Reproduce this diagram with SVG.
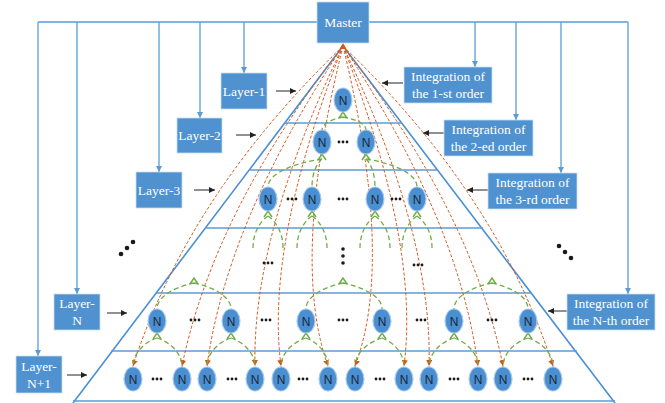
<svg xmlns="http://www.w3.org/2000/svg" xmlns:xlink="http://www.w3.org/1999/xlink" width="665" height="403" viewBox="0 0 665 403">
<style>
.box{fill:#4f92cf;stroke:#c9dcef;stroke-width:0.8}
.bt{font-family:"Liberation Serif","Times New Roman",serif;font-size:13.5px;fill:#ffffff;text-anchor:middle}
.feed{fill:none;stroke:#5b9bd5;stroke-width:1.3}
.edge{fill:none;stroke:#4a8fd3;stroke-width:1.6}
.tier{fill:none;stroke:#5b9bd5;stroke-width:1.6}
.blk{fill:none;stroke:#222;stroke-width:1}
.org{fill:none;stroke:#d2561a;stroke-width:1;stroke-dasharray:3 2}
.grn{fill:none;stroke:#70ad47;stroke-width:1.3;stroke-dasharray:5 3}
.chev{fill:none;stroke:#70ad47;stroke-width:1.5}
.nd{fill:#4a8fd1;stroke:#a9c9ea;stroke-width:1.2}
.nt{font-family:"Liberation Sans",Arial,sans-serif;font-size:12px;fill:#1b2733;text-anchor:middle}
.dot{fill:#1a1a1a}
</style>
<defs>
<marker id="mb" viewBox="0 0 10 10" refX="10" refY="5" markerWidth="6" markerHeight="6" markerUnits="userSpaceOnUse" orient="auto"><path d="M0,0 L10,5 L0,10z" fill="#5b9bd5"/></marker>
<marker id="mk" viewBox="0 0 10 10" refX="10" refY="5" markerWidth="7" markerHeight="6" markerUnits="userSpaceOnUse" orient="auto"><path d="M0,0 L10,5 L0,10z" fill="#222"/></marker>
<marker id="mo" viewBox="0 0 10 10" refX="10" refY="5" markerWidth="6" markerHeight="6" markerUnits="userSpaceOnUse" orient="auto"><path d="M0,0 L10,5 L0,10z" fill="#d2561a"/></marker>
<polyline id="chev" class="chev" points="-4,6 0,0 4,6"/>
<g id="d3"><circle class="dot" cx="-4" cy="0" r="1.4"/><circle class="dot" cx="0" cy="0" r="1.4"/><circle class="dot" cx="4" cy="0" r="1.4"/></g>
</defs>
<rect width="665" height="403" fill="#ffffff"/>

<!-- pyramid -->
<g id="pyramid">
<path class="edge" d="M343,46 L73,403"/>
<path class="edge" d="M343,46 L615,403"/>
<path class="tier" d="M285,123 H402"/>
<path class="tier" d="M249,170 H438"/>
<path class="tier" d="M205,228 H483"/>
<path class="tier" d="M156,293 H531"/>
<path class="tier" d="M111,351 H577"/>
<path class="tier" d="M73,401 H615" stroke="#9dc3e6"/>
</g>

<!-- connectors -->
<g id="connectors">
<path class="feed" d="M38,22 H317 M369,22 H628"/>
<path class="feed" marker-end="url(#mb)" d="M244,22 V73"/>
<path class="feed" marker-end="url(#mb)" d="M200,22 V118"/>
<path class="feed" marker-end="url(#mb)" d="M159,22 V172"/>
<path class="feed" marker-end="url(#mb)" d="M77,22 V294"/>
<path class="feed" marker-end="url(#mb)" d="M38,22 V356"/>
<path class="feed" marker-end="url(#mb)" d="M475,22 V67"/>
<path class="feed" marker-end="url(#mb)" d="M516,22 V120"/>
<path class="feed" marker-end="url(#mb)" d="M561,22 V173"/>
<path class="feed" marker-end="url(#mb)" d="M628,22 V294"/>

<path class="blk" marker-end="url(#mk)" d="M276,91 H296"/>
<path class="blk" marker-end="url(#mk)" d="M236,135 H256"/>
<path class="blk" marker-end="url(#mk)" d="M194,190 H215"/>
<path class="blk" marker-end="url(#mk)" d="M107,313 H127"/>
<path class="blk" marker-end="url(#mk)" d="M67,375 H87"/>
<path class="blk" marker-end="url(#mk)" d="M403,83 H382"/>
<path class="blk" marker-end="url(#mk)" d="M444,133 H423"/>
<path class="blk" marker-end="url(#mk)" d="M488,190 H467"/>
<path class="blk" marker-end="url(#mk)" d="M567,311 H548"/>

<!-- orange integration links -->
<path d="M343,43 L339.5,49 L346.5,49z" fill="#d2561a"/>
<path class="org" marker-end="url(#mo)" d="M343,46 Q188,195 133,366"/>
<path class="org" marker-end="url(#mo)" d="M343,46 Q214,211 182,366"/>
<path class="org" marker-end="url(#mo)" d="M343,46 Q227,220 207,366"/>
<path class="org" marker-end="url(#mo)" d="M343,46 Q252,236 255,366"/>
<path class="org" marker-end="url(#mo)" d="M343,46 Q265,244 281,366"/>
<path class="org" marker-end="url(#mo)" d="M343,46 Q290,260 328,366"/>
<path class="org" marker-end="url(#mo)" d="M343,46 Q395,261 355,366"/>
<path class="org" marker-end="url(#mo)" d="M343,46 Q420,245 404,366"/>
<path class="org" marker-end="url(#mo)" d="M343,46 Q433,236 429,366"/>
<path class="org" marker-end="url(#mo)" d="M343,46 Q459,220 478,366"/>
<path class="org" marker-end="url(#mo)" d="M343,46 Q472,212 503,366"/>
<path class="org" marker-end="url(#mo)" d="M343,46 Q498,195 553,366"/>

<!-- green tree links -->
<path class="grn" d="M343,117 C332.5,119 322,123.5 322,130 M343,117 C354.5,119 366,123.5 366,130"/>
<path class="grn" d="M322,159 C295,163 268,173 268,187 M322,159 C317,163 312,173 312,187 M366,159 C370.5,163 375,173 375,187 M366,159 C391.5,163 417,173 417,187"/>
<path class="grn" d="M268,216 C260.5,221 253,232 253,248 M268,216 C275.5,221 283,232 283,248 M312,216 C304.5,221 297,232 297,248 M312,216 C319.5,221 327,232 327,248 M375,216 C367.5,221 360,232 360,248 M375,216 C382.5,221 390,232 390,248 M417,216 C409.5,221 402,232 402,248 M417,216 C424.5,221 432,232 432,248"/>
<path class="grn" d="M194,283 C175.5,287 157,296 157,309 M194,283 C212.5,287 231,296 231,309 M343,283 C324.5,287 306,296 306,309 M343,283 C362.5,287 382,296 382,309 M492,283 C473,287 454,296 454,309 M492,283 C510,287 528,296 528,309"/>
<path class="grn" d="M157,338 C145,342 133,352.5 133,367 M157,338 C169.5,342 182,352.5 182,367 M231,338 C219,342 207,352.5 207,367 M231,338 C243,342 255,352.5 255,367 M306,338 C293.5,342 281,352.5 281,367 M306,338 C317,342 328,352.5 328,367 M382,338 C368.5,342 355,352.5 355,367 M382,338 C393,342 404,352.5 404,367 M454,338 C441.5,342 429,352.5 429,367 M454,338 C466,342 478,352.5 478,367 M528,338 C515.5,342 503,352.5 503,367 M528,338 C540.5,342 553,352.5 553,367"/>
<use href="#chev" x="343" y="112"/>
<use href="#chev" x="322" y="154"/><use href="#chev" x="366" y="154"/>
<use href="#chev" x="268" y="211"/><use href="#chev" x="312" y="211"/><use href="#chev" x="375" y="211"/><use href="#chev" x="417" y="211"/>
<use href="#chev" x="194" y="278"/><use href="#chev" x="343" y="278"/><use href="#chev" x="492" y="278"/>
<use href="#chev" x="157" y="333"/><use href="#chev" x="231" y="333"/><use href="#chev" x="306" y="333"/><use href="#chev" x="382" y="333"/><use href="#chev" x="454" y="333"/><use href="#chev" x="528" y="333"/>
</g>

<!-- boxes -->
<g id="master"><rect class="box" x="317" y="2" width="52" height="41"/><text class="bt" x="343" y="27" font-size="14">Master</text></g>
<g id="layer1"><rect class="box" x="221" y="73" width="46" height="36"/><text class="bt" x="244" y="96">Layer-1</text></g>
<g id="layer2"><rect class="box" x="177" y="118" width="45" height="35"/><text class="bt" x="199.5" y="140">Layer-2</text></g>
<g id="layer3"><rect class="box" x="136" y="172" width="46" height="36"/><text class="bt" x="159" y="195">Layer-3</text></g>
<g id="layerN"><rect class="box" x="54" y="294" width="46" height="36"/><text class="bt" x="77" y="308">Layer-</text><text class="bt" x="77" y="325">N</text></g>
<g id="layerN1"><rect class="box" x="16" y="356" width="46" height="37"/><text class="bt" x="39" y="371">Layer-</text><text class="bt" x="39" y="388">N+1</text></g>
<g id="int1"><rect class="box" x="404" y="67" width="88" height="36"/><text class="bt" x="448" y="81">Integration of</text><text class="bt" x="448" y="98">the 1-st order</text></g>
<g id="int2"><rect class="box" x="444" y="120" width="89" height="36"/><text class="bt" x="488.5" y="134">Integration of</text><text class="bt" x="488.5" y="151">the 2-ed order</text></g>
<g id="int3"><rect class="box" x="488" y="173" width="89" height="36"/><text class="bt" x="532.5" y="187">Integration of</text><text class="bt" x="532.5" y="204">the 3-rd order</text></g>
<g id="intN"><rect class="box" x="567" y="294" width="88" height="36"/><text class="bt" x="611" y="308">Integration of</text><text class="bt" x="611" y="325">the N-th order</text></g>

<!-- nodes -->
<g id="n1"><ellipse class="nd" cx="343" cy="100" rx="9" ry="12"/><text class="nt" x="343" y="104.5">N</text></g>
<g id="n2a"><ellipse class="nd" cx="322" cy="142" rx="9" ry="12"/><text class="nt" x="322" y="146.5">N</text></g>
<g id="n2b"><ellipse class="nd" cx="366" cy="142" rx="9" ry="12"/><text class="nt" x="366" y="146.5">N</text></g>
<g id="n3a"><ellipse class="nd" cx="268" cy="199" rx="9" ry="12"/><text class="nt" x="268" y="203.5">N</text></g>
<g id="n3b"><ellipse class="nd" cx="312" cy="199" rx="9" ry="12"/><text class="nt" x="312" y="203.5">N</text></g>
<g id="n3c"><ellipse class="nd" cx="375" cy="199" rx="9" ry="12"/><text class="nt" x="375" y="203.5">N</text></g>
<g id="n3d"><ellipse class="nd" cx="417" cy="199" rx="9" ry="12"/><text class="nt" x="417" y="203.5">N</text></g>
<g id="nNa"><ellipse class="nd" cx="157" cy="321" rx="9" ry="12"/><text class="nt" x="157" y="325.5">N</text></g>
<g id="nNb"><ellipse class="nd" cx="231" cy="321" rx="9" ry="12"/><text class="nt" x="231" y="325.5">N</text></g>
<g id="nNc"><ellipse class="nd" cx="306" cy="321" rx="9" ry="12"/><text class="nt" x="306" y="325.5">N</text></g>
<g id="nNd"><ellipse class="nd" cx="382" cy="321" rx="9" ry="12"/><text class="nt" x="382" y="325.5">N</text></g>
<g id="nNe"><ellipse class="nd" cx="454" cy="321" rx="9" ry="12"/><text class="nt" x="454" y="325.5">N</text></g>
<g id="nNf"><ellipse class="nd" cx="528" cy="321" rx="9" ry="12"/><text class="nt" x="528" y="325.5">N</text></g>
<g id="m1"><ellipse class="nd" cx="133" cy="379" rx="9" ry="12"/><text class="nt" x="133" y="383.5">N</text></g>
<g id="m2"><ellipse class="nd" cx="182" cy="379" rx="9" ry="12"/><text class="nt" x="182" y="383.5">N</text></g>
<g id="m3"><ellipse class="nd" cx="207" cy="379" rx="9" ry="12"/><text class="nt" x="207" y="383.5">N</text></g>
<g id="m4"><ellipse class="nd" cx="255" cy="379" rx="9" ry="12"/><text class="nt" x="255" y="383.5">N</text></g>
<g id="m5"><ellipse class="nd" cx="281" cy="379" rx="9" ry="12"/><text class="nt" x="281" y="383.5">N</text></g>
<g id="m6"><ellipse class="nd" cx="328" cy="379" rx="9" ry="12"/><text class="nt" x="328" y="383.5">N</text></g>
<g id="m7"><ellipse class="nd" cx="355" cy="379" rx="9" ry="12"/><text class="nt" x="355" y="383.5">N</text></g>
<g id="m8"><ellipse class="nd" cx="404" cy="379" rx="9" ry="12"/><text class="nt" x="404" y="383.5">N</text></g>
<g id="m9"><ellipse class="nd" cx="429" cy="379" rx="9" ry="12"/><text class="nt" x="429" y="383.5">N</text></g>
<g id="m10"><ellipse class="nd" cx="478" cy="379" rx="9" ry="12"/><text class="nt" x="478" y="383.5">N</text></g>
<g id="m11"><ellipse class="nd" cx="503" cy="379" rx="9" ry="12"/><text class="nt" x="503" y="383.5">N</text></g>
<g id="m12"><ellipse class="nd" cx="553" cy="379" rx="9" ry="12"/><text class="nt" x="553" y="383.5">N</text></g>

<!-- ellipses -->
<g id="ellipses">
<use href="#d3" x="343" y="142"/>
<use href="#d3" x="292" y="199"/><use href="#d3" x="343" y="199"/><use href="#d3" x="396" y="199"/>
<use href="#d3" x="268" y="263"/><use href="#d3" x="418" y="265"/>
<use href="#d3" x="195" y="320"/><use href="#d3" x="266" y="320"/><use href="#d3" x="343" y="320"/><use href="#d3" x="421" y="320"/><use href="#d3" x="492" y="320"/>
<use href="#d3" x="157" y="379"/><use href="#d3" x="232" y="379"/><use href="#d3" x="303" y="379"/><use href="#d3" x="380" y="379"/><use href="#d3" x="454" y="379"/><use href="#d3" x="528" y="379"/>
<circle class="dot" cx="343" cy="249" r="1.8"/><circle class="dot" cx="343" cy="256" r="1.8"/><circle class="dot" cx="343" cy="263" r="1.8"/>
<circle class="dot" cx="133" cy="242" r="2.3"/><circle class="dot" cx="127" cy="248" r="2.3"/><circle class="dot" cx="121" cy="254" r="2.3"/>
<circle class="dot" cx="559" cy="246" r="2.3"/><circle class="dot" cx="565" cy="252" r="2.3"/><circle class="dot" cx="571" cy="258" r="2.3"/>
</g>
</svg>
